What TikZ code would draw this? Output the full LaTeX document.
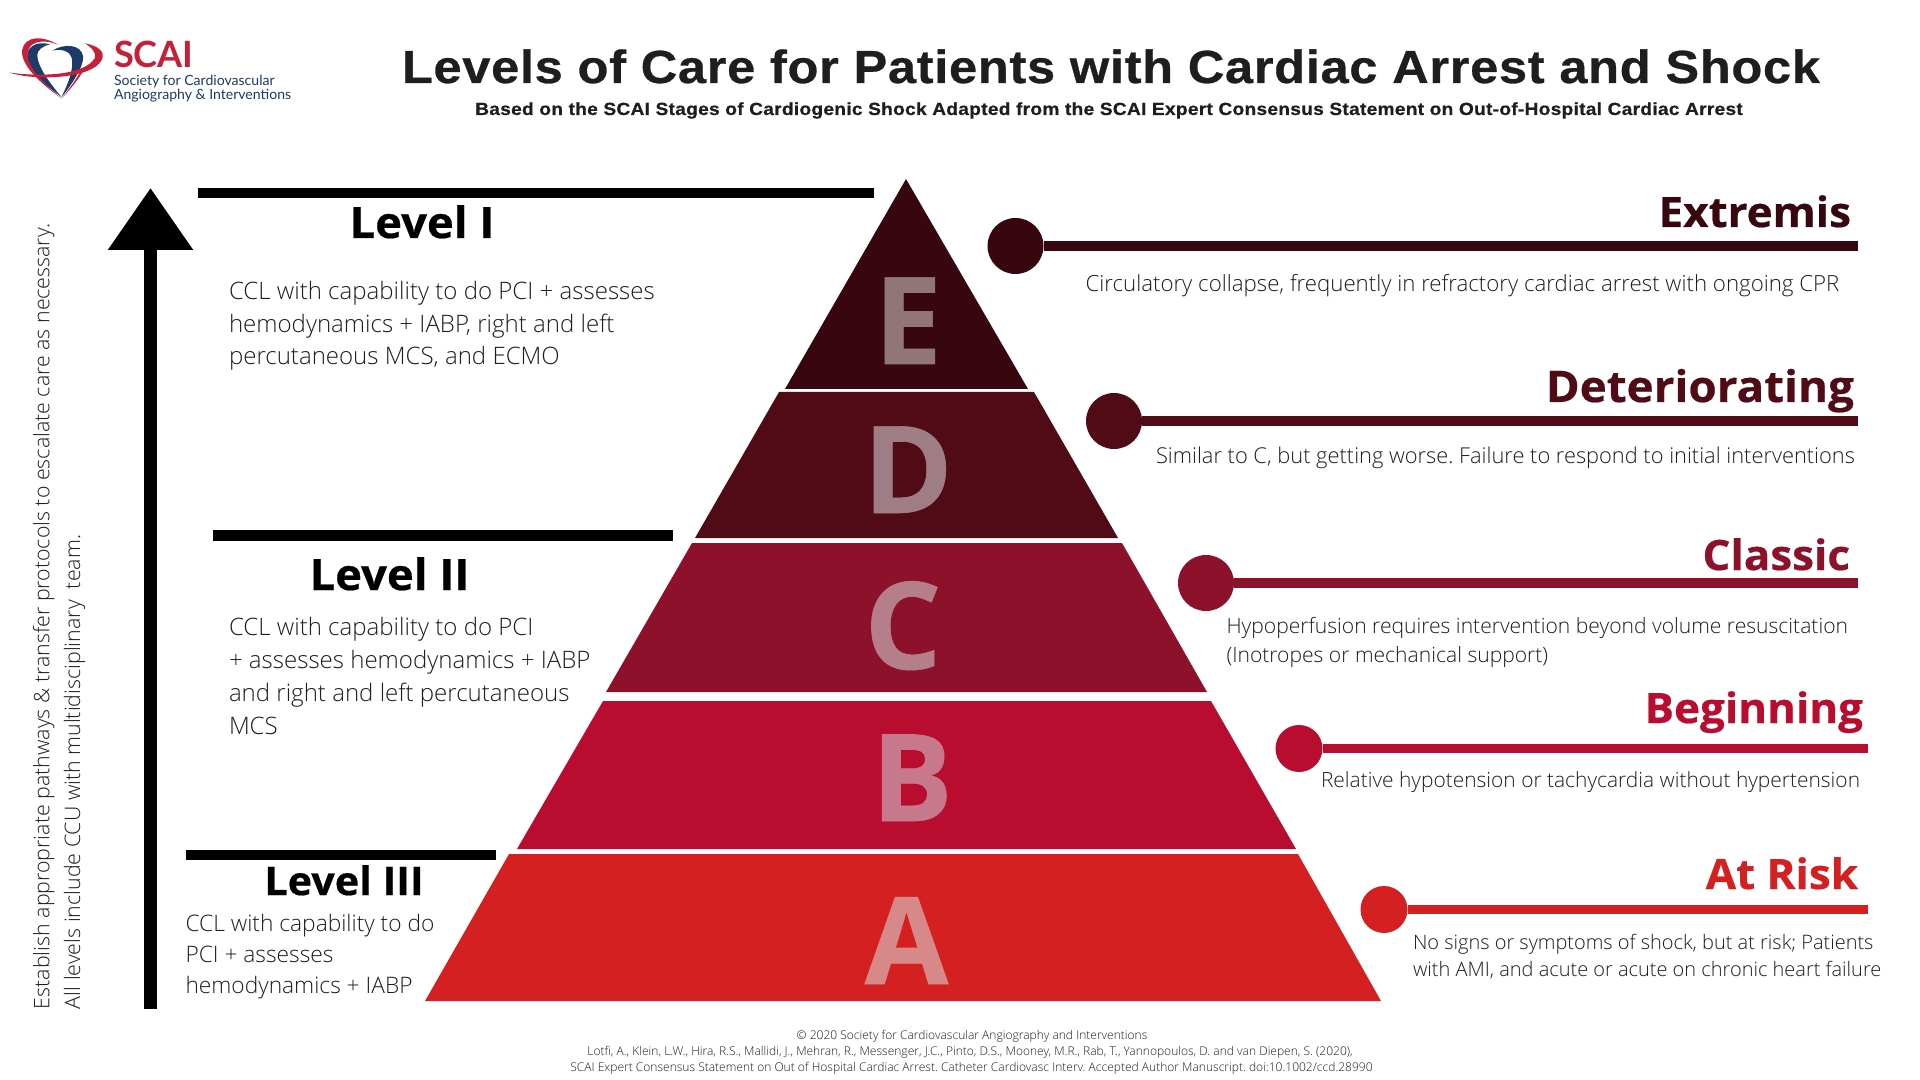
\documentclass[tikz,border=0pt]{standalone}
\usepackage{xcolor}
\usepackage{fontspec}
\usepackage{tikz}
\usetikzlibrary{arrows.meta}

\newfontfamily\lightfont{Open Sans Light}
\newfontfamily\heavyfont[FakeStretch=1.05,BoldFeatures={FakeBold=0.5}]{Open Sans}
\newfontfamily\boldfont[BoldFeatures={FakeBold=0.5}]{Open Sans}
\newfontfamily\titlefont[FakeStretch=1.09,LetterSpace=1.5,BoldFeatures={FakeBold=0.6}]{Liberation Sans}
\newfontfamily\logofont{Lato}

\definecolor{tierE}{HTML}{38060F}
\definecolor{tierD}{HTML}{510B17}
\definecolor{tierC}{HTML}{8D112A}
\definecolor{tierB}{HTML}{B90D30}
\definecolor{tierA}{HTML}{D42020}
\definecolor{paleE}{HTML}{907579}
\definecolor{paleD}{HTML}{9E7E84}
\definecolor{paleC}{HTML}{B67D8B}
\definecolor{paleB}{HTML}{C8788D}
\definecolor{paleA}{HTML}{D78989}
\definecolor{logored}{HTML}{C4203A}
\definecolor{logoblue}{HTML}{1F3A68}
\definecolor{inktext}{HTML}{1E1E1E}

\begin{document}
\frenchspacing
\begin{tikzpicture}[
    plain/.style={inner sep=0pt, outer sep=0pt, text=inktext},
    bodytext/.style={plain, align=left, anchor=base west, font=\lightfont\fontsize{6.84}{9.3}\selectfont},
    stagetext/.style 2 args={plain, align=left, anchor=base west, font=\lightfont\fontsize{#1}{#2}\selectfont},
    leveltitle/.style={plain, anchor=base, text=black, font=\heavyfont\bfseries\fontsize{12.3}{14}\selectfont},
    stagetitle/.style={plain, anchor=base east, font=\heavyfont\bfseries\fontsize{11.9}{14}\selectfont},
    tierletter/.style={plain, anchor=base, font=\boldfont\bfseries\fontsize{34.5}{36}\selectfont},
    levelbar/.style={line width=0.105cm, black},
    stagedot/.style={circle, inner sep=0pt, outer sep=0pt},
    stageline/.style={line width=0.105cm},
    footline/.style={plain, anchor=base, font=\lightfont\fontsize{3.42}{4}\selectfont}
]
    \useasboundingbox (0,0) rectangle (19.2,-10.8);
    \fill[white] (0,0) rectangle (19.2,-10.8);

    % Logo
    \begin{scope}[shift={(0,-0.2)}, x=0.00333cm, y=-0.00333cm]
        \fill[logoblue] (150,73) .. controls (110,62) and (72,80) .. (84,125) .. controls (98,165) and (150,205) .. (185,232) .. controls (150,190) and (112,140) .. (112,105) .. controls (112,90) and (130,78) .. (150,73) -- cycle;
        \fill[logoblue] (158,92) .. controls (190,70) and (245,72) .. (250,110) .. controls (252,140) and (215,195) .. (185,232) .. controls (205,190) and (222,150) .. (216,115) .. controls (212,95) and (185,85) .. (158,92) -- cycle;
        \fill[logored] (185,236) .. controls (130,195) and (75,150) .. (67,105) .. controls (60,60) and (110,35) .. (175,75) .. controls (130,55) and (75,62) .. (84,115) .. controls (95,160) and (150,205) .. (185,236) -- cycle;
        \fill[logored] (28,158) .. controls (110,170) and (250,170) .. (285,115) .. controls (292,100) and (275,82) .. (255,70) .. controls (295,78) and (318,95) .. (306,120) .. controls (280,175) and (110,185) .. (28,158) -- cycle;
        \fill[logored] (185,236) .. controls (210,210) and (235,180) .. (252,150) -- (240,158) .. controls (225,185) and (205,210) .. (185,236) -- cycle;
    \end{scope}
    \node[plain, anchor=base west, text=logored, font=\logofont\bfseries\fontsize{10.3}{12}\selectfont] (scai) at (1.14,-0.68) {SCAI};
    \node[plain, anchor=base west, text=logoblue, font=\logofont\fontsize{4.0}{5}\selectfont] (society) at (1.14,-0.86) {Society for Cardiovascular};
    \node[plain, anchor=base west, text=logoblue, font=\logofont\fontsize{4.0}{5}\selectfont] (angio) at (1.14,-1.00) {Angiography \& Interventions};

    % Title
    \node[plain, anchor=base, font=\titlefont\bfseries\fontsize{13.2}{16}\selectfont] (title) at (11.11,-0.83) {Levels of Care for Patients with Cardiac Arrest and Shock};
    \node[plain, anchor=base, font=\titlefont\bfseries\fontsize{5.0}{6}\selectfont] (subtitle) at (11.09,-1.15) {Based on the SCAI Stages of Cardiogenic Shock Adapted from the SCAI Expert Consensus Statement on Out-of-Hospital Cardiac Arrest};

    % Escalation arrow
    \coordinate (arrowfoot) at (1.505,-10.09);
    \coordinate (arrowhead) at (1.505,-1.88);
    \draw[line width=0.13cm, -{Triangle[width=0.82cm,length=0.62cm]}] (arrowfoot) -- (arrowhead);
    \node[plain, rotate=90, align=left, anchor=base west, font=\lightfont\fontsize{6.08}{8.7}\selectfont] (pathways) at (0.80,-10.09) {Establish appropriate pathways \& transfer protocols to escalate care as necessary.\\All levels include CCU with multidisciplinary\ \ team.};

    % Pyramid
    \fill[tierE] (9.06,-1.79) -- (10.28,-3.89) -- (7.85,-3.89) -- cycle;
    \fill[tierD] (7.79,-3.92) -- (10.34,-3.92) -- (11.18,-5.38) -- (6.95,-5.38) -- cycle;
    \fill[tierC] (6.92,-5.43) -- (11.22,-5.43) -- (12.07,-6.92) -- (6.06,-6.92) -- cycle;
    \fill[tierB] (6.03,-7.01) -- (12.11,-7.01) -- (12.96,-8.49) -- (5.17,-8.49) -- cycle;
    \fill[tierA] (5.09,-8.54) -- (12.98,-8.54) -- (13.81,-10.01) -- (4.25,-10.01) -- cycle;
    \node[tierletter, text=paleE] (letterE) at (9.08,-3.64) {E};
    \node[tierletter, text=paleD] (letterD) at (9.08,-5.13) {D};
    \node[tierletter, text=paleC] (letterC) at (9.03,-6.69) {C};
    \node[tierletter, text=paleB] (letterB) at (9.12,-8.21) {B};
    \node[tierletter, text=paleA] (letterA) at (9.065,-9.84) {A};

    % Levels
    \coordinate (barIa) at (1.98,-1.93);
    \coordinate (barIb) at (8.74,-1.93);
    \draw[levelbar] (barIa) -- (barIb);
    \node[leveltitle] (levelI) at (4.22,-2.38) {Level I};
    \node[bodytext] (textI) at (2.29,-3.65) {CCL with capability to do PCI + assesses\\hemodynamics + IABP, right and left\\percutaneous MCS, and ECMO};

    \coordinate (barIIa) at (2.13,-5.355);
    \coordinate (barIIb) at (6.73,-5.355);
    \draw[levelbar] (barIIa) -- (barIIb);
    \node[leveltitle] (levelII) at (3.895,-5.90) {Level II};
    \node[bodytext] (textII) at (2.29,-7.34) {CCL with capability to do PCI\\+ assesses hemodynamics + IABP\\and right and left percutaneous\\MCS};

    \coordinate (barIIIa) at (1.855,-8.55);
    \coordinate (barIIIb) at (4.96,-8.55);
    \draw[levelbar] (barIIIa) -- (barIIIb);
    \node[leveltitle, font=\heavyfont\bfseries\fontsize{11.2}{13}\selectfont] (levelIII) at (3.44,-8.95) {Level III};
    \node[bodytext, font=\lightfont\fontsize{6.47}{8.8}\selectfont] (textIII) at (1.855,-9.93) {CCL with capability to do\\PCI + assesses\\hemodynamics + IABP};

    % Stages
    \node[stagedot, fill=tierE, minimum size=0.56cm] (dotE) at (10.155,-2.46) {};
    \coordinate (endE) at (18.58,-2.46);
    \draw[stageline, tierE] (dotE) -- (endE);
    \node[stagetitle, text=tierE] (stageE) at (18.51,-2.27) {Extremis};
    \node[stagetext={6.33}{8}] (descE) at (10.855,-2.92) {Circulatory collapse, frequently in refractory cardiac arrest with ongoing CPR};

    \node[stagedot, fill=tierD, minimum size=0.56cm] (dotD) at (11.14,-4.21) {};
    \coordinate (endD) at (18.58,-4.21);
    \draw[stageline, tierD] (dotD) -- (endD);
    \node[stagetitle, text=tierD, font=\heavyfont\bfseries\fontsize{12.4}{14}\selectfont] (stageD) at (18.54,-4.02) {Deteriorating};
    \node[stagetext={6.21}{8}] (descD) at (11.56,-4.64) {Similar to C, but getting worse. Failure to respond to initial interventions};

    \node[stagedot, fill=tierC, minimum size=0.56cm] (dotC) at (12.06,-5.83) {};
    \coordinate (endC) at (18.58,-5.83);
    \draw[stageline, tierC] (dotC) -- (endC);
    \node[stagetitle, text=tierC] (stageC) at (18.50,-5.70) {Classic};
    \node[stagetext={6.0}{8.25}] (descC) at (12.265,-6.62) {Hypoperfusion requires intervention beyond volume resuscitation\\(Inotropes or mechanical support)};

    \node[stagedot, fill=tierB, minimum size=0.47cm] (dotB) at (12.99,-7.485) {};
    \coordinate (endB) at (18.675,-7.485);
    \draw[stageline, line width=0.09cm, tierB] (dotB) -- (endB);
    \node[stagetitle, text=tierB] (stageB) at (18.63,-7.23) {Beginning};
    \node[stagetext={5.96}{8}] (descB) at (13.21,-7.87) {Relative hypotension or tachycardia without hypertension};

    \node[stagedot, fill=tierA, minimum size=0.47cm] (dotA) at (13.84,-9.095) {};
    \coordinate (endA) at (18.675,-9.095);
    \draw[stageline, line width=0.09cm, tierA] (dotA) -- (endA);
    \node[stagetitle, text=tierA] (stageA) at (18.58,-8.89) {At Risk};
    \node[stagetext={5.68}{7.68}] (descA) at (14.13,-9.76) {No signs or symptoms of shock, but at risk; Patients\\with AMI, and acute or acute on chronic heart failure};

    % Footer
    \node[footline] (copyright) at (9.72,-10.39) {© 2020 Society for Cardiovascular Angiography and Interventions};
    \node[footline] (authors) at (9.70,-10.55) {Lotfi, A., Klein, L.W., Hira, R.S., Mallidi, J., Mehran, R., Messenger, J.C., Pinto, D.S., Mooney, M.R., Rab, T., Yannopoulos, D. and van Diepen, S. (2020),};
    \node[footline] (source) at (9.715,-10.71) {SCAI Expert Consensus Statement on Out of Hospital Cardiac Arrest. Catheter Cardiovasc Interv. Accepted Author Manuscript. doi:10.1002/ccd.28990};
\end{tikzpicture}
\end{document}
